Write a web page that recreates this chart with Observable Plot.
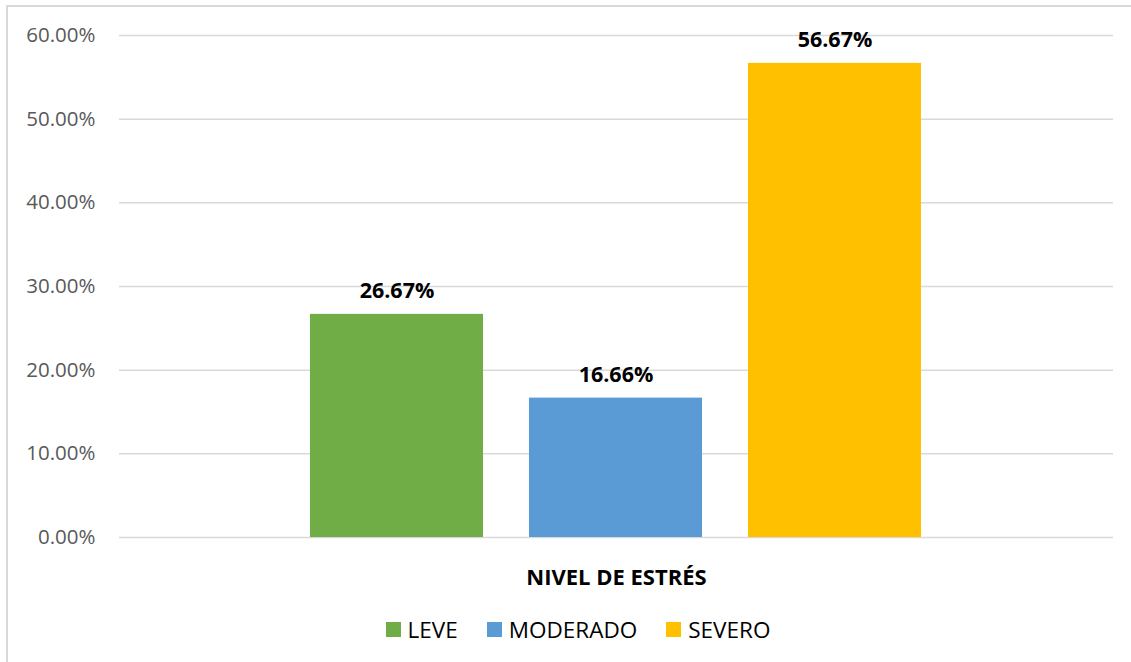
<!DOCTYPE html>
<html>
<head>
<meta charset="utf-8">
<script src="https://cdn.jsdelivr.net/npm/d3@7"></script>
<script src="https://cdn.jsdelivr.net/npm/@observablehq/plot@0.6"></script>
<style>
  html, body { margin: 0; padding: 0; background: #fff; }
  body { width: 1131px; height: 662px; position: relative; overflow: hidden; font-family: "Open Sans", sans-serif; }
  #frame { position: absolute; left: 6px; top: 5px; width: 1140px; height: 670px; border: 2px solid #d9d9d9; box-sizing: border-box; }
  #chart { position: absolute; left: 0; top: 0; }
  #legend { position: absolute; left: 0; top: 614px; width: 1156px; display: flex; justify-content: center; gap: 29px; font-size: 22.5px; color: #000; }
  #legend .item { display: flex; align-items: center; }
  #legend .sw { width: 15px; height: 15px; margin-right: 7px; }
</style>
</head>
<body>
<div id="frame"></div>
<div id="chart"></div>
<div id="legend"></div>
<script>
const category = "NIVEL DE ESTRÉS";
const levels = ["LEVE", "MODERADO", "SEVERO"];
const values = [26.67, 16.66, 56.67];
const colors = ["#70ad47", "#5b9bd5", "#ffc000"];
const yTicks = [0, 10, 20, 30, 40, 50, 60];

const data = levels.map((l, i) => ({level: l, value: values[i]}));
const fmt = v => d3.format(".2f")(v) + "%";

const chart = Plot.plot({
  width: 1131,
  height: 595,
  marginTop: 35,
  marginBottom: 58,
  marginLeft: 119,
  marginRight: 18,
  style: {fontFamily: "Open Sans, sans-serif", background: "transparent"},
  x: {domain: levels, paddingInner: 0.209, paddingOuter: 0.8636, axis: null},
  y: {domain: [0, 60], ticks: yTicks},
  color: {domain: levels, range: colors},
  marks: [
    Plot.gridY(yTicks, {stroke: "#d9d9d9", strokeOpacity: 1, strokeWidth: 1.5}),
    Plot.axisY(yTicks, {tickSize: 0, tickPadding: 24, tickFormat: fmt, label: null, fontSize: 20.5, fill: "#595959"}),
    Plot.barY(data, {x: "level", y: "value", fill: "level"}),
    Plot.text(data, {x: "level", y: "value", text: d => fmt(d.value), dy: -23, fontSize: 21.5, fontWeight: "bold", fill: "#000", lineAnchor: "middle"}),
    Plot.text([category], {frameAnchor: "bottom", text: d => d, dy: 40, lineAnchor: "middle", fontSize: 22, fontWeight: "bold", fill: "#000"})
  ]
});
document.getElementById("chart").appendChild(chart);

const legend = document.getElementById("legend");
levels.forEach((l, i) => {
  const item = document.createElement("div");
  item.className = "item";
  const sw = document.createElement("div");
  sw.className = "sw";
  sw.style.background = colors[i];
  const t = document.createElement("span");
  t.textContent = l;
  item.appendChild(sw);
  item.appendChild(t);
  legend.appendChild(item);
});
</script>
</body>
</html>
